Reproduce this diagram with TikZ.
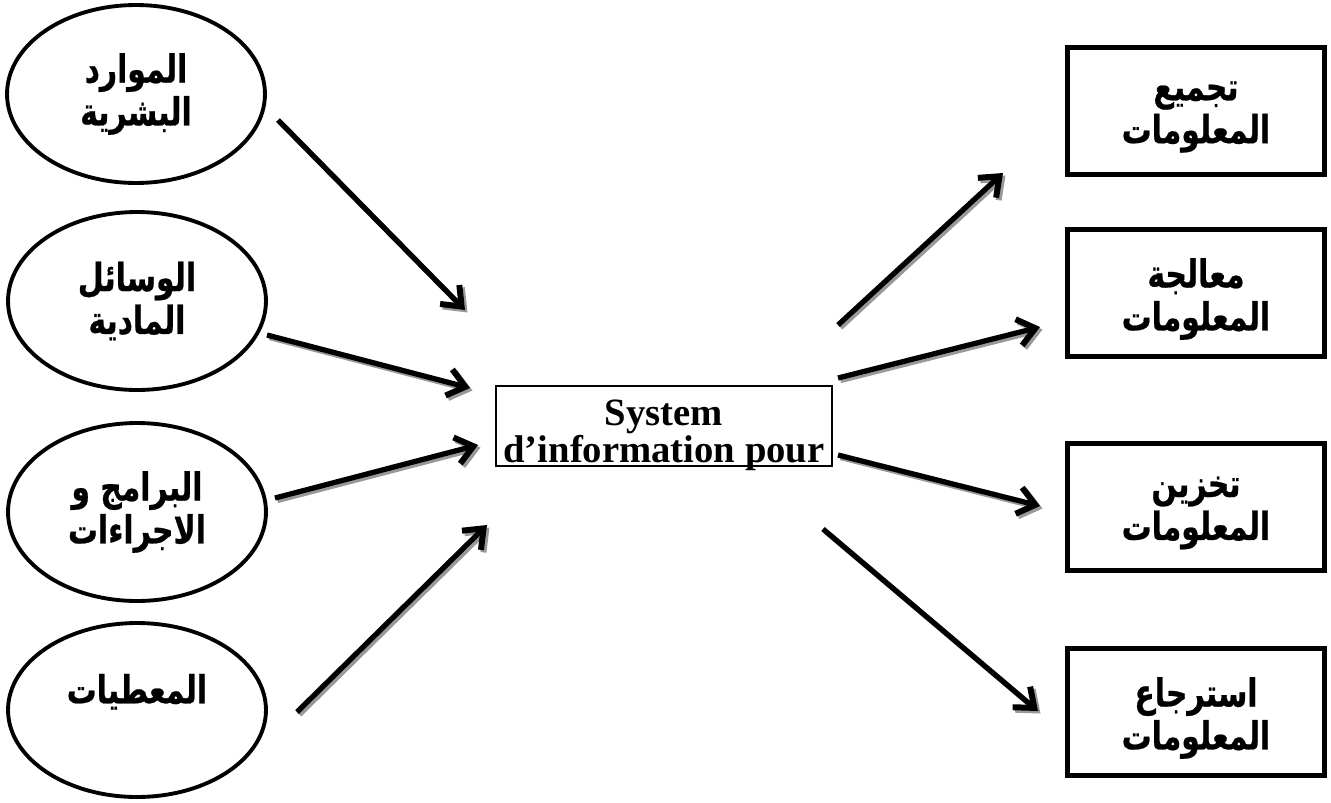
\documentclass[tikz,border=0pt]{standalone}
\usepackage{fontspec}
\setmainfont{Liberation Serif}
\newfontfamily\arabicfont[Script=Arabic, FakeStretch=0.77, BoldFeatures={FakeBold=0.6}]{DejaVu Sans}
\TeXXeTstate=1
\usetikzlibrary{shapes.geometric,arrows.meta}
\newcommand{\ar}[1]{{\arabicfont\bfseries\beginR #1\endR}}
\tikzset{
  artext/.style={align=center, inner sep=0pt, font=\fontsize{22}{24.4}\selectfont},
  ell/.style={draw, line width=2.2pt, ellipse, minimum width=5.16cm, minimum height=3.56cm, artext},
  outbox/.style={draw, line width=2.6pt, rectangle, minimum width=5.14cm, minimum height=2.54cm, inner sep=0pt},
  sysbox/.style={draw, line width=1.1pt, rectangle, minimum width=6.72cm, minimum height=1.6cm, inner sep=0pt},
  systext/.style={inner sep=0pt, align=center, font=\bfseries\fontsize{22}{18.7}\selectfont},
  tipstyle/.style={-{Straight Barb[length=3.4mm, width=5.4mm, line width=3.4pt]}},
  arr/.style={line width=3pt, tipstyle},
  arrshadow/.style={line width=3pt, draw=black!40, tipstyle}
}
\begin{document}
\begin{tikzpicture}[x=0.02cm, y=-0.02cm]
\useasboundingbox (0,0) rectangle (1331,802);
% ellipses
\node[ell] (e1) at (136,94) {\ar{الموارد}\\\ar{البشرية}};
\node[ell] (e2) at (137,301) {\ar{الوسائل}\\\ar{المادية}};
\node[ell] (e3) at (137,512) {\ar{البرامج و}\\\ar{الاجراءات}};
\node[ell, minimum height=3.48cm] (e4) at (137,710) {\ar{المعطيات}\\\mbox{}};
% central box
\node[sysbox] (sys) at (664,426) {};
\node[systext] (syst) at (664,435) {System\\d’information pour};
% right boxes
\node[outbox] (r1) at (1196,111) {};
\node[outbox] (r2) at (1196,293) {};
\node[outbox] (r3) at (1196,507) {};
\node[outbox] (r4) at (1196,712) {};
\node[artext] (r1t) at (1196,117) {\ar{تجميع}\\\ar{المعلومات}};
\node[artext] (r2t) at (1196,299) {\ar{معالجة}\\\ar{المعلومات}};
\node[artext] (r3t) at (1196,513) {\ar{تخزين}\\\ar{المعلومات}};
\node[artext] (r4t) at (1196,718) {\ar{استرجاع}\\\ar{المعلومات}};
% arrow end points
\coordinate (a1s) at (278,120); \coordinate (a1e) at (465,310);
\coordinate (a2s) at (267,335); \coordinate (a2e) at (470,388);
\coordinate (a3s) at (275,498); \coordinate (a3e) at (478,445);
\coordinate (a4s) at (297,712); \coordinate (a4e) at (487,525);
\coordinate (b1s) at (838,325); \coordinate (b1e) at (1003,173);
\coordinate (b2s) at (838,378); \coordinate (b2e) at (1040,327);
\coordinate (b3s) at (838,455); \coordinate (b3e) at (1040,506);
\coordinate (b4s) at (823,529); \coordinate (b4e) at (1038,711);
\foreach \s/\e in {a1s/a1e,a2s/a2e,a3s/a3e,a4s/a4e,b1s/b1e,b2s/b2e,b3s/b3e,b4s/b4e}{
  \draw[arrshadow] ([shift={(2.5,2.5)}]\s) -- ([shift={(2.5,2.5)}]\e);
}
\foreach \s/\e in {a1s/a1e,a2s/a2e,a3s/a3e,a4s/a4e,b1s/b1e,b2s/b2e,b3s/b3e,b4s/b4e}{
  \draw[arr] (\s) -- (\e);
}
\end{tikzpicture}
\end{document}
